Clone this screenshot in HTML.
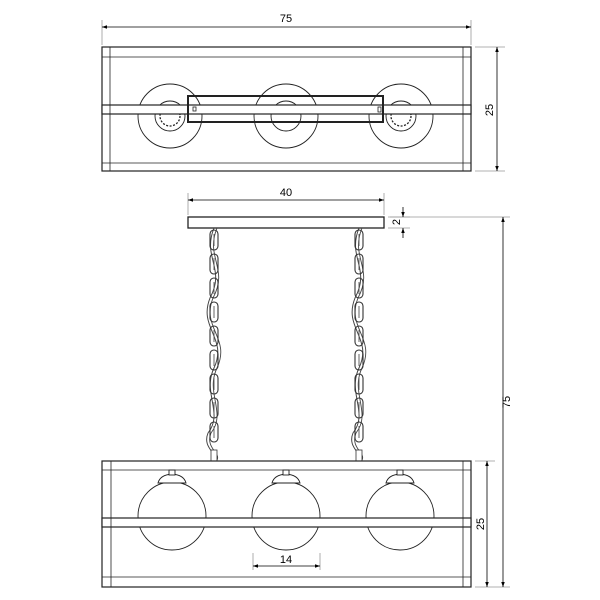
<!DOCTYPE html><html><head><style>body{margin:0;background:#fff}svg{display:block}</style></head><body>
<svg width="600" height="600" viewBox="0 0 600 600" xmlns="http://www.w3.org/2000/svg" font-family="Liberation Sans, sans-serif" font-size="11">
<defs>
<marker id="a" viewBox="0 0 10 10" refX="10" refY="5" markerUnits="userSpaceOnUse" markerWidth="9" markerHeight="5" orient="auto-start-reverse"><path d="M0,1.5 L10,5 L0,8.5z" fill="#000"/></marker>
<g id="link"><rect x="-4" y="-10" width="8" height="20" rx="4" fill="none" stroke="#333" stroke-width="1.1"/><line x1="0" y1="-6" x2="0" y2="6" stroke="#555" stroke-width="0.9"/></g>
<g id="chain">
<path d="M0,0 C-12,30 12,40 -4,70 C-16,100 14,110 0,140 C-12,165 10,185 -6,205 C-12,220 4,225 0,232" fill="none" stroke="#444" stroke-width="1"/>
<path d="M3,0 C-9,30 15,40 -1,70 C-13,100 17,110 3,140 C-9,165 13,185 -3,205 C-9,220 7,225 3,232" fill="none" stroke="#444" stroke-width="0.9"/>
<use href="#link" y="12"/><use href="#link" y="36"/><use href="#link" y="60"/><use href="#link" y="84"/><use href="#link" y="108"/><use href="#link" y="132"/><use href="#link" y="156"/><use href="#link" y="180"/><use href="#link" y="204"/>
<rect x="-3" y="222" width="6" height="11" fill="#fff" stroke="#333" stroke-width="0.8"/>
</g>
</defs>
<g stroke="#999" stroke-width="0.8" fill="none">
<line x1="102" y1="20" x2="102" y2="45"/><line x1="471" y1="20" x2="471" y2="45"/>
<line x1="475" y1="47" x2="505" y2="47"/><line x1="475" y1="171" x2="505" y2="171"/>
<line x1="188" y1="193" x2="188" y2="215"/><line x1="384" y1="193" x2="384" y2="215"/>
<line x1="388" y1="217" x2="410" y2="217"/><line x1="388" y1="228" x2="410" y2="228"/>
<line x1="390" y1="217" x2="510" y2="217"/><line x1="475" y1="587" x2="510" y2="587"/>
<line x1="475" y1="461" x2="495" y2="461"/>
<line x1="253" y1="553" x2="253" y2="570"/><line x1="320" y1="553" x2="320" y2="570"/>
</g>
<g stroke="#000" stroke-width="0.8" fill="none">
<line x1="102" y1="27" x2="471" y2="27" marker-start="url(#a)" marker-end="url(#a)"/>
<line x1="497" y1="47" x2="497" y2="171" marker-start="url(#a)" marker-end="url(#a)"/>
<line x1="188" y1="200" x2="384" y2="200" marker-start="url(#a)" marker-end="url(#a)"/>
<line x1="403" y1="207" x2="403" y2="217" marker-end="url(#a)"/><line x1="403" y1="238" x2="403" y2="228" marker-end="url(#a)"/>
<line x1="503" y1="217" x2="503" y2="587" marker-start="url(#a)" marker-end="url(#a)"/>
<line x1="487" y1="461" x2="487" y2="587" marker-start="url(#a)" marker-end="url(#a)"/>
<line x1="253" y1="566" x2="320" y2="566" marker-start="url(#a)" marker-end="url(#a)"/>
</g>
<text x="286" y="22" text-anchor="middle">75</text>
<text x="286" y="196" text-anchor="middle">40</text>
<text x="286" y="563" text-anchor="middle">14</text>
<text transform="translate(493,110) rotate(-90)" text-anchor="middle">25</text>
<text transform="translate(400,222) rotate(-90)" text-anchor="middle">2</text>
<text transform="translate(510,402) rotate(-90)" text-anchor="middle">75</text>
<text transform="translate(484,524) rotate(-90)" text-anchor="middle">25</text>
<g fill="none" stroke="#222" stroke-width="0.9">
<circle cx="170" cy="116" r="32"/><circle cx="286" cy="116" r="32"/><circle cx="401" cy="116" r="32"/>
<circle cx="170" cy="116" r="15"/><circle cx="401" cy="116" r="15"/><circle cx="286" cy="116" r="15"/>
<circle cx="170" cy="116" r="10" stroke-dasharray="2 1.5" stroke-width="1.3"/><circle cx="401" cy="116" r="10" stroke-dasharray="2 1.5" stroke-width="1.3"/>
</g>
<g fill="#fff" stroke="#222" stroke-width="1.2">
<rect x="102" y="47" width="369" height="124" fill="none"/>
<rect x="102" y="105" width="369" height="9"/>
<rect x="188" y="96" width="195" height="26" stroke-width="2" fill="none"/>
</g>
<g stroke="#222" stroke-width="0.8">
<line x1="102" y1="57" x2="471" y2="57"/><line x1="102" y1="163" x2="471" y2="163"/>
<line x1="110" y1="47" x2="110" y2="171"/><line x1="463" y1="47" x2="463" y2="171"/>
<rect x="193" y="107" width="3" height="4" fill="none"/><rect x="378" y="107" width="3" height="5" fill="none"/>
</g>
<rect x="188" y="217" width="196" height="11" fill="#fff" stroke="#222" stroke-width="1.3"/>
<use href="#chain" x="214" y="228"/><use href="#chain" x="359" y="228"/>
<g fill="none" stroke="#222" stroke-width="0.9">
<circle cx="172" cy="516" r="34"/><circle cx="286" cy="516" r="34"/><circle cx="400" cy="516" r="34"/>
<path d="M158,483 Q160,475 172,474 Q184,475 186,483Z M272,483 Q274,475 286,474 Q298,475 300,483Z M386,483 Q388,475 400,474 Q412,475 414,483Z" fill="#fff"/>
<rect x="169" y="470" width="6" height="5" fill="#fff"/><rect x="283" y="470" width="6" height="5" fill="#fff"/><rect x="397" y="470" width="6" height="5" fill="#fff"/>
</g>
<g fill="none" stroke="#222" stroke-width="1.2">
<rect x="102" y="461" width="369" height="126"/>
<rect x="102" y="518" width="369" height="9" fill="#fff"/>
</g>
<g stroke="#222" stroke-width="0.8">
<line x1="102" y1="470" x2="471" y2="470"/><line x1="102" y1="577" x2="471" y2="577"/>
<line x1="111" y1="461" x2="111" y2="587"/><line x1="463" y1="461" x2="463" y2="587"/>
</g>
</svg>
</body></html>
